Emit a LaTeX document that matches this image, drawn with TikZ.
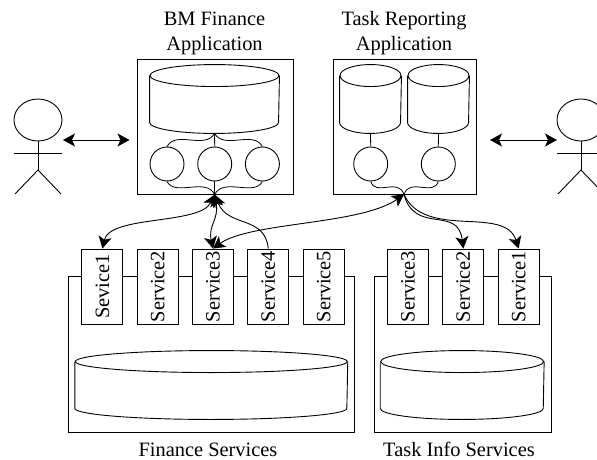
\documentclass[tikz,border=0pt]{standalone}
\usepackage{fontspec}
\setmainfont{Liberation Serif}
\usetikzlibrary{positioning, arrows.meta, calc, shapes.geometric}
\newcommand{\stickman}[2]{
	\node[head] (#1Head) at (#2,120) {};
	\coordinate (#1Hip) at (#2,170);
	\coordinate (#1ArmL) at ($(#1Head.south)+(-24,12)$);
	\coordinate (#1ArmR) at ($(#1Head.south)+(24,12)$);
	\coordinate (#1FootL) at ($(#1Hip)+(-23,24)$);
	\coordinate (#1FootR) at ($(#1Hip)+(23,24)$);
	\draw (#1Head.south) -- (#1Hip);
	\draw (#1ArmL) -- (#1ArmR);
	\draw (#1FootL) -- (#1Hip) -- (#1FootR);
}
\newcommand{\drum}[4]{
	\node[minimum width=#3*2pt, minimum height=68pt] (#1) at (#2,#4) {};
	\draw ($(#1.north)+(0,11)$) ellipse [x radius=#3pt, y radius=11pt];
	\draw ($(#1.north west)+(0,11)$) -- ($(#1.south west)+(0,-11)$)
		arc [start angle=180, end angle=360, x radius=#3pt, y radius=11pt]
		-- ($(#1.north east)+(0,11)$);
}

\begin{document}
\begin{tikzpicture}[x=1pt, y=-1pt, line width=0.9pt,
	>={Stealth[length=12pt, width=13pt, inset=3pt]},
	every node/.style={font=\fontsize{20.4}{25}\selectfont, inner sep=0pt},
	box/.style={draw, rectangle},
	head/.style={draw, ellipse, minimum width=48pt, minimum height=42pt},
	proc/.style={draw, circle, minimum size=34pt},
	svc/.style={draw, fill=white, minimum width=41pt, minimum height=75pt},
	thin link/.style={line width=0.8pt},
	node distance=13.4pt]
	\clip (0,0) rectangle (597,460);

	\stickman{userL}{38}
	\stickman{userR}{581}

	\node[box, minimum width=156pt, minimum height=135pt] (bmApp) at (215,126.5) {};
	\node[box, minimum width=143pt, minimum height=135pt] (taskApp) at (404.5,126.5) {};
	\node[box, minimum width=286pt, minimum height=156pt] (finBox) at (211,354) {};
	\node[box, minimum width=177pt, minimum height=156pt] (infoBox) at (462.5,354) {};

	\node[align=center] (bmTitle) at (214.5,33) {BM Finance\\Application};
	\node[align=center] (taskTitle) at (404,33) {Task Reporting\\Application};
	\node (finTitle) at (208,450) {Finance Services};
	\node (infoTitle) at (459,449) {Task Info Services};

	\drum{bmDrum}{214.5}{64.5}{99}
	\drum{taskDrumA}{370.5}{30.5}{99}
	\drum{taskDrumB}{438.5}{30.5}{99}
	\drum{finDrum}{211.3}{136}{385}
	\drum{infoDrum}{462.2}{81.5}{385}

	\node[proc] (bmProcB) at (214.7,164) {};
	\node[proc] (bmProcA) at (167,164) {};
	\node[proc] (bmProcC) at (262.4,164) {};
	\node[proc] (taskProcA) at (370.7,164) {};
	\node[proc] (taskProcB) at (438.3,164) {};

	\coordinate (bmHub) at (214.7,194.5);
	\coordinate (taskHub) at (404,194.5);

	\node[svc] (fin1) at (102.4,286.5) {\rotatebox{90}{Sevice1}};
	\node[svc, right=of fin1] (fin2) {\rotatebox{90}{Service2}};
	\node[svc, right=of fin2] (fin3) {\rotatebox{90}{Service3}};
	\node[svc, right=of fin3] (fin4) {\rotatebox{90}{Service4}};
	\node[svc, right=of fin4] (fin5) {\rotatebox{90}{Service5}};
	\node[svc] (info3) at (408,286.5) {\rotatebox{90}{Service3}};
	\node[svc, right=of info3] (info2) {\rotatebox{90}{Service2}};
	\node[svc, right=of info2] (info1) {\rotatebox{90}{Service1}};

	\draw[thin link] (bmDrum.south) .. controls (205,150) and (176,130) .. (bmProcA.north);
	\draw[thin link] (bmDrum.south) -- (bmProcB.north);
	\draw[thin link] (bmDrum.south) .. controls (224.4,150) and (253.4,130) .. (bmProcC.north);
	\draw[thin link] (taskDrumA.south) -- (taskProcA.north);
	\draw[thin link] (taskDrumB.south) -- (taskProcB.north);

	\draw[thin link] (bmProcA.south) .. controls (175,197) and (206,177) .. (bmHub);
	\draw[thin link] (bmProcB.south) -- (bmHub);
	\draw[thin link] (bmProcC.south) .. controls (254.4,197) and (223.4,177) .. (bmHub);
	\draw[thin link] (taskProcA.south) .. controls (376,197) and (398,177) .. (taskHub);
	\draw[thin link] (taskProcB.south) .. controls (433,197) and (410,177) .. (taskHub);

	\draw[<->] (bmHub) .. controls (200,225) and (110,215) .. (fin1.north);
	\draw[<->] (bmHub) .. controls (219,220) and (208,225) .. (fin3.north);
	\draw[->] (fin4.north) .. controls (265,215) and (228,228) .. (bmHub);
	\draw[<->] (fin3.north) .. controls (250,222) and (360,225) .. (taskHub);
	\draw[->] (taskHub) .. controls (415,235) and (458,205) .. (info2.north);
	\draw[->] (taskHub) .. controls (425,240) and (505,205) .. (info1.north);

	\coordinate (leftEnd) at (63,140);
	\coordinate (bmEnd) at (129.5,140);
	\coordinate (taskEnd) at (490,140);
	\coordinate (rightEnd) at (557,140);
	\draw[<->] (leftEnd) -- (bmEnd);
	\draw[<->] (taskEnd) -- (rightEnd);
\end{tikzpicture}
\end{document}
